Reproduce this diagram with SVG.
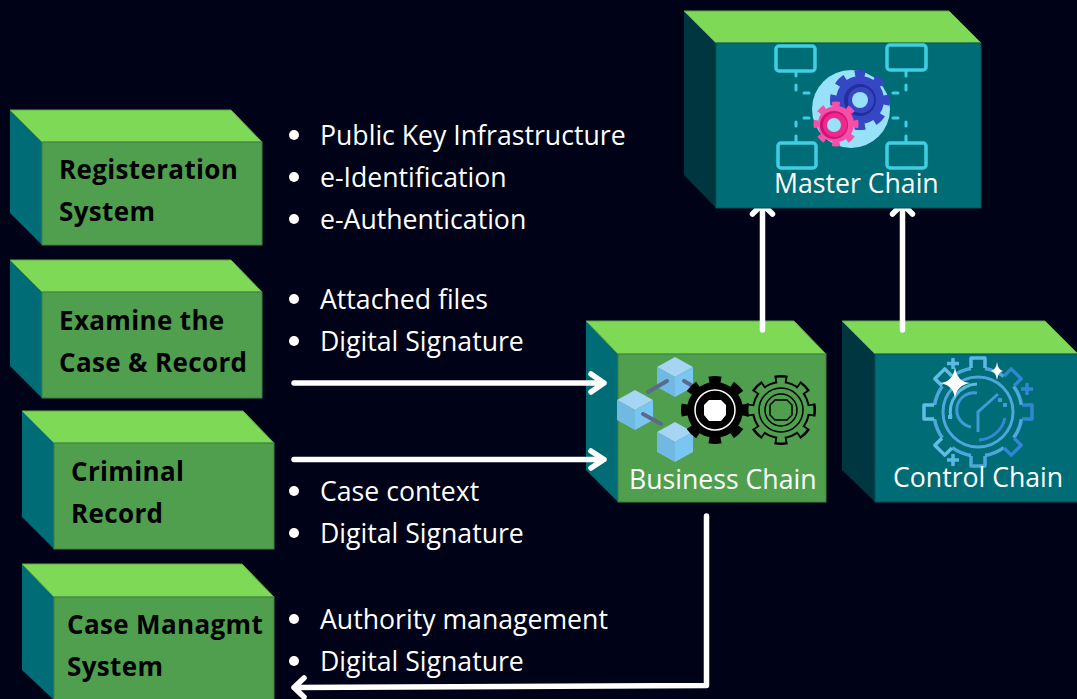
<svg xmlns="http://www.w3.org/2000/svg" xmlns:xlink="http://www.w3.org/1999/xlink" width="1077" height="699" viewBox="0 0 1077 699">
<style>
text{font-family:"Open Sans","Liberation Sans",sans-serif}
.top{fill:#7ed957;stroke:#5fa84a;stroke-width:1}
.side{fill:#006c75}
.dark{fill:#00363f}
.fg{fill:#4f9f4f;stroke:#3f8045;stroke-width:1}
.ft{fill:#006c75;stroke:#00525a;stroke-width:1}
.lab{font-size:26px;font-weight:700;fill:#000;letter-spacing:.35px}
.li{font-size:26.65px;fill:#fff}
.cap{font-size:26.65px;fill:#fff}
.bul{fill:#fff}
.arr{fill:none;stroke:#fff;stroke-width:5.500;stroke-linecap:round;stroke-linejoin:round}
.nd{fill:none;stroke:#3fcfe4;stroke-width:3.500}
.ds{fill:none;stroke:#3fcfe4;stroke-width:3;stroke-linecap:round}
.lk{fill:none;stroke:#5b6a8c;stroke-width:4;stroke-linecap:round}
</style>
<defs>
<g id="cube">
<polygon points="0,-20 18,-10 0,0 -18,-10" fill="#a5d5f3"/>
<polygon points="-18,-10 0,0 0,20 -18,10" fill="#71b9e3"/>
<polygon points="18,-10 0,0 0,20 18,10" fill="#79c6f2"/>
</g>
<path id="tooth" d="M-7,-44V-54H7V-44" fill="none" stroke-width="3.5" stroke-linejoin="round"/>
</defs>
<rect width="1077" height="699" fill="#000217"/>

<g id="registration">
<polygon class="side" points="10,110 42,142 42,245 10,213"/>
<polygon class="top" points="10,110 231,110 262,142 42,142"/>
<rect class="fg" x="42" y="142" width="220" height="103"/>
<text class="lab" x="59" y="179">Registeration</text>
<text class="lab" x="59" y="221">System</text>
</g>
<g id="examine">
<polygon class="side" points="10,260 42,292 42,398 10,366"/>
<polygon class="top" points="10,260 231,260 262,292 42,292"/>
<rect class="fg" x="42" y="292" width="220" height="106"/>
<text class="lab" x="59" y="330">Examine the</text>
<text class="lab" x="59" y="372">Case &amp; Record</text>
</g>
<g id="criminal">
<polygon class="side" points="22,411 54,443 54,549 22,517"/>
<polygon class="top" points="22,411 243,411 274,443 54,443"/>
<rect class="fg" x="54" y="443" width="220" height="106"/>
<text class="lab" x="71" y="481">Criminal</text>
<text class="lab" x="71" y="523">Record</text>
</g>
<g id="case-management">
<polygon class="side" points="22,564 54,597 54,700 22,670"/>
<polygon class="top" points="22,564 242,564 274,597 54,597"/>
<rect class="fg" x="54" y="597" width="220" height="106"/>
<text class="lab" x="67" y="634">Case Managmt</text>
<text class="lab" x="67" y="676">System</text>
</g>

<g id="lists">
<circle class="bul" cx="294" cy="135" r="5"/><text class="li" x="320" y="145">Public Key Infrastructure</text>
<circle class="bul" cx="294" cy="177" r="5"/><text class="li" x="320" y="187">e-Identification</text>
<circle class="bul" cx="294" cy="219" r="5"/><text class="li" x="320" y="229">e-Authentication</text>
<circle class="bul" cx="294" cy="299" r="5"/><text class="li" x="320" y="309">Attached files</text>
<circle class="bul" cx="294" cy="341" r="5"/><text class="li" x="320" y="351">Digital Signature</text>
<circle class="bul" cx="294" cy="491" r="5"/><text class="li" x="320" y="501">Case context</text>
<circle class="bul" cx="294" cy="533" r="5"/><text class="li" x="320" y="543">Digital Signature</text>
<circle class="bul" cx="294" cy="619" r="5"/><text class="li" x="320" y="629">Authority management</text>
<circle class="bul" cx="294" cy="661" r="5"/><text class="li" x="320" y="671">Digital Signature</text>
</g>

<g id="business-chain">
<polygon class="side" points="586,321 618,354 618,502 586,470"/>
<polygon class="top" points="586,321 794,321 826,354 618,354"/>
<rect class="fg" x="618" y="354" width="208" height="148"/>
<use xlink:href="#cube" href="#cube" x="675" y="377"/>
<use xlink:href="#cube" href="#cube" x="635" y="410"/>
<use xlink:href="#cube" href="#cube" x="675" y="442"/>
<path class="lk" d="M648,392L667,381M684,381L698,389M643,414L661,424"/>
<circle cx="715" cy="410" r="28" fill="#000"/>
<circle cx="715" cy="410" r="29" fill="none" stroke="#000" stroke-width="10" pathLength="80" stroke-dasharray="5 5" stroke-dashoffset="2.500"/>
<circle cx="715" cy="410" r="20" fill="none" stroke="#fff" stroke-width="1.500"/>
<polygon points="709,400 721,400 726,405 726,415 721,421 709,421 704,415 704,405" fill="#fff"/>
<circle cx="781" cy="410" r="29" fill="#000"/>
<circle cx="781" cy="410" r="30" fill="none" stroke="#000" stroke-width="10" pathLength="80" stroke-dasharray="5 5" stroke-dashoffset="2.500"/>
<circle cx="781" cy="410" r="27" fill="#4f9f4f"/>
<circle cx="781" cy="410" r="29" fill="none" stroke="#4f9f4f" stroke-width="7" pathLength="80" stroke-dasharray="3.500 6.500" stroke-dashoffset="1.750"/>
<circle cx="781" cy="410" r="22" fill="none" stroke="#000" stroke-width="1.500"/>
<circle cx="781" cy="410" r="16" fill="none" stroke="#000" stroke-width="1.500"/>
<polygon points="775,400 787,400 792,405 792,415 787,420 775,420 770,415 770,405" fill="none" stroke="#000" stroke-width="1.500"/>
<text class="cap" x="629" y="489">Business Chain</text>
</g>

<g id="control-chain">
<polygon class="dark" points="842,321 875,354 875,502 842,470"/>
<polygon class="top" points="842,321 1045,321 1078,354 875,354"/>
<rect class="ft" x="875" y="354" width="203" height="148"/>
<g transform="translate(978 412)" stroke="#4da7dc">
<circle r="44" fill="none" stroke-width="3.500" pathLength="360" stroke-dasharray="26.8 18.2" stroke-dashoffset="-9.100"/>
<use xlink:href="#tooth" href="#tooth" stroke="#5cb8e4"/>
<use xlink:href="#tooth" href="#tooth" transform="rotate(45)" stroke="#2f86d2"/>
<use xlink:href="#tooth" href="#tooth" transform="rotate(90)" stroke="#2f86d2"/>
<use xlink:href="#tooth" href="#tooth" transform="rotate(135)" stroke="#2f86d2"/>
<use xlink:href="#tooth" href="#tooth" transform="rotate(180)" stroke="#4da7dc"/>
<use xlink:href="#tooth" href="#tooth" transform="rotate(225)" stroke="#62bde6"/>
<use xlink:href="#tooth" href="#tooth" transform="rotate(270)" stroke="#62bde6"/>
<use xlink:href="#tooth" href="#tooth" transform="rotate(315)" stroke="#62bde6"/>
<circle r="35" fill="none" stroke-width="3"/>
<path d="M-27,6A28,28 0 0 1 -1,-28" fill="none" stroke="#5cb8e4" stroke-width="3"/>
<path d="M-7,15A17,17 0 0 1 -1,-19" fill="none" stroke="#3f9ad8" stroke-width="3"/>
<path d="M0,20V0L20,-18" fill="none" stroke="#3f9ad8" stroke-width="3"/>
<path d="M1,28A28,28 0 0 0 27,6" fill="none" stroke="#3388d4" stroke-width="3"/>
<rect x="20" y="-14" width="4" height="4" fill="#3f9ad8" stroke="none"/>
<rect x="25" y="-9" width="4" height="4" fill="#3f9ad8" stroke="none"/>
<rect x="-30" y="3" width="4" height="4" fill="#5cb8e4" stroke="none"/>
</g>
<path d="M953,358V369M947,363.500H959" stroke="#5cb8e4" stroke-width="3.500" fill="none"/>
<path d="M1027,383V395M1021,389H1033" stroke="#2f86d2" stroke-width="3.500" fill="none"/>
<path d="M953,454V466M947,460H959" stroke="#5cb8e4" stroke-width="3.500" fill="none"/>
<path d="M955,367Q957,382 970,383Q957,385 955,398Q953,385 940,383Q953,382 955,367Z" fill="#fff"/>
<path d="M997,362Q998,370 1003,371Q998,372 997,380Q996,372 991,371Q996,370 997,362Z" fill="#fff"/>
<text class="cap" x="893" y="487">Control Chain</text>
</g>

<g id="connectors">
<path class="arr" d="M294,383H604M591,374L604,383L591,392"/>
<path class="arr" d="M294,459.500H604M591,451L604,459.500L591,468"/>
<path class="arr" d="M762.500,330V205M752.500,214L762.500,204L772.500,214"/>
<path class="arr" d="M902.500,330V205M892.500,214L902.500,204L912.500,214"/>
<path class="arr" d="M706.500,516V685.500L294,687.500M304,678L294,687.500L304,697"/>
</g>

<g id="master-chain">
<polygon class="dark" points="684,11 716,43 716,208 684,175"/>
<polygon class="top" points="684,11 949,11 981,43 716,43"/>
<rect class="ft" x="716" y="43" width="265" height="165"/>
<rect class="nd" x="776" y="46" width="39" height="25" rx="3"/>
<rect class="nd" x="887" y="45" width="39" height="25" rx="3"/>
<rect class="nd" x="778" y="143" width="38" height="25" rx="3"/>
<rect class="nd" x="887" y="143" width="39" height="25" rx="3"/>
<path class="ds" d="M796,72V76M796,85V90M804,93H809M804,118H809M796,122V126M796,136V142M906,71V76M906,85V90M893,93H898M893,118H898M906,122V126M906,136V142"/>
<circle cx="851" cy="109" r="39" fill="#97e2f8"/>
<circle cx="860" cy="100" r="24" fill="#3547c4"/>
<circle cx="860" cy="100" r="26.500" fill="none" stroke="#3547c4" stroke-width="7" pathLength="80" stroke-dasharray="5 5" stroke-dashoffset="2.500"/>
<circle cx="860" cy="100" r="16" fill="#22309a"/>
<circle cx="861" cy="100" r="13" fill="#3547c4"/>
<circle cx="860" cy="100" r="8" fill="#97e2f8"/>
<circle cx="836" cy="124" r="18" fill="#f54fa8"/>
<circle cx="836" cy="124" r="20" fill="none" stroke="#f54fa8" stroke-width="5" pathLength="80" stroke-dasharray="5 5" stroke-dashoffset="2.500"/>
<circle cx="834" cy="125" r="14" fill="#d0107a"/>
<circle cx="835" cy="125" r="12" fill="#ec2a8e"/>
<circle cx="834" cy="125" r="7" fill="#97e2f8"/>
<text class="cap" x="774" y="193">Master Chain</text>
</g>
</svg>
